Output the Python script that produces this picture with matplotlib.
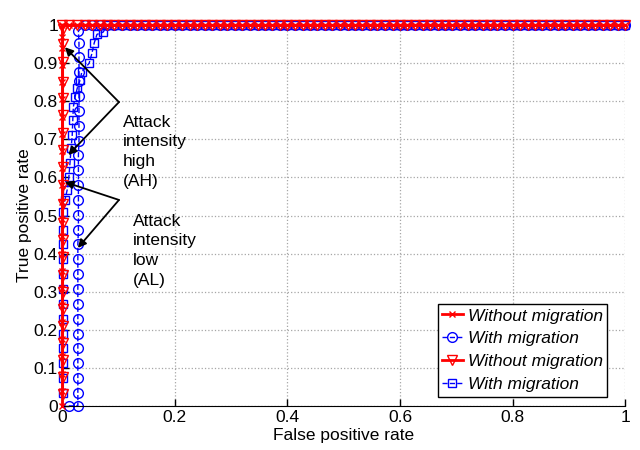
import matplotlib.pyplot as plt

plt.rcParams['font.family'] = ['Liberation Sans', 'DejaVu Sans']
plt.rcParams['font.size'] = 12.5

# shared sampling along the top (TPR = 1) row
top_x = [0.0, 0.013, 0.027, 0.04, 0.053, 0.067, 0.08, 0.093, 0.107, 0.12,
         0.133, 0.147, 0.16, 0.173, 0.187, 0.2, 0.213, 0.227, 0.24, 0.253,
         0.267, 0.28, 0.293, 0.307, 0.32, 0.333, 0.347, 0.36, 0.373, 0.387,
         0.4, 0.413, 0.427, 0.44, 0.453, 0.467, 0.48, 0.493, 0.507, 0.52,
         0.533, 0.547, 0.56, 0.573, 0.587, 0.6, 0.613, 0.627, 0.64, 0.653,
         0.667, 0.68, 0.693, 0.707, 0.72, 0.733, 0.747, 0.76, 0.773, 0.787,
         0.8, 0.813, 0.827, 0.84, 0.853, 0.867, 0.88, 0.893, 0.907, 0.92,
         0.933, 0.947, 0.96, 0.973, 0.987, 1.0]

# without migration, attack intensity high (red x)
ah_wo_y = [0.0, 0.04, 0.085, 0.13, 0.175, 0.22, 0.265, 0.31, 0.355, 0.4,
           0.445, 0.49, 0.535, 0.58, 0.625, 0.67, 0.715, 0.76, 0.805, 0.85,
           0.895, 0.94, 0.97]
ah_wo_x = [0.0] * len(ah_wo_y)

# without migration, attack intensity low (red triangles)
al_wo_y = [0.03, 0.075, 0.12, 0.165, 0.21, 0.255, 0.3, 0.345, 0.39, 0.435,
           0.48, 0.53, 0.58, 0.627, 0.672, 0.717, 0.764, 0.808, 0.85, 0.903,
           0.95, 0.99]
al_wo_x = [0.001] * len(al_wo_y)

# with migration, attack intensity low (blue circles)
al_w_x = [0.012, 0.028, 0.028, 0.028, 0.028, 0.028, 0.028, 0.028, 0.028,
          0.028, 0.028, 0.028, 0.028, 0.029, 0.029, 0.029, 0.029, 0.029,
          0.029, 0.03, 0.03, 0.03, 0.03, 0.03, 0.03, 0.03, 0.03, 0.029]
al_w_y = [0.0, 0.0, 0.034, 0.073, 0.112, 0.151, 0.19, 0.229, 0.268, 0.307,
          0.346, 0.385, 0.424, 0.463, 0.502, 0.541, 0.58, 0.619, 0.658,
          0.697, 0.736, 0.775, 0.814, 0.853, 0.877, 0.916, 0.953, 0.985]

# with migration, attack intensity high (blue squares)
ah_w_x = [0.002, 0.002, 0.002, 0.002, 0.002, 0.002, 0.002, 0.002, 0.002,
          0.002, 0.002, 0.002, 0.002, 0.005, 0.009, 0.012, 0.014, 0.016,
          0.018, 0.019, 0.02, 0.023, 0.027, 0.032, 0.035, 0.048, 0.053,
          0.057, 0.062, 0.073]
ah_w_y = [0.034, 0.073, 0.112, 0.151, 0.19, 0.229, 0.268, 0.307, 0.346,
          0.385, 0.424, 0.463, 0.51, 0.541, 0.567, 0.6, 0.638, 0.677, 0.711,
          0.75, 0.785, 0.811, 0.835, 0.856, 0.877, 0.9, 0.926, 0.953, 0.976,
          0.982]

labels = ['Without migration', 'With migration',
          'Without migration', 'With migration']

fig = plt.figure(figsize=(6.4, 4.5), dpi=100)
ax = fig.add_axes([0.097, 0.098, 0.88, 0.846])

ax.plot(ah_wo_x + top_x, ah_wo_y + [1.0] * len(top_x), color='red', lw=2,
        marker='x', ms=5, mew=1, label=labels[0], clip_on=False, zorder=3)
ax.plot(al_w_x + top_x[3:], al_w_y + [1.0] * len(top_x[3:]), color='blue',
        lw=1, ls='--', marker='o', ms=7, mfc='none', mew=1,
        label=labels[1], clip_on=False, zorder=2)
ax.plot(al_wo_x + top_x, al_wo_y + [1.0] * len(top_x), color='red', lw=2,
        marker='v', ms=7, mfc='none', mew=1, label=labels[2],
        clip_on=False, zorder=3)
ax.plot(ah_w_x + top_x[6:], ah_w_y + [1.0] * len(top_x[6:]), color='blue',
        lw=1, ls='--', marker='s', ms=6, mfc='none', mew=1,
        label=labels[3], clip_on=False, zorder=2)

ax.set_xlim(0, 1)
ax.set_ylim(0, 1)
ax.set_xticks([0, 0.2, 0.4, 0.6, 0.8, 1])
ax.set_xticklabels(['0', '0.2', '0.4', '0.6', '0.8', '1'])
ax.set_yticks([i / 10 for i in range(11)])
ax.set_yticklabels(['0', '0.1', '0.2', '0.3', '0.4', '0.5', '0.6', '0.7',
                    '0.8', '0.9', '1'])
ax.tick_params(direction='in', length=5, width=1, pad=3)
ax.spines['top'].set_visible(False)
ax.spines['right'].set_visible(False)
ax.grid(True, ls=':', color='0.65', lw=0.9)
ax.set_axisbelow(True)
ax.set_xlabel('False positive rate', labelpad=2)
ax.set_ylabel('True positive rate', labelpad=1)

arrow = dict(arrowstyle='-|>', color='black', lw=1.3, shrinkA=0, shrinkB=0,
             mutation_scale=12)
ax.annotate('', xy=(0.005, 0.942), xytext=(0.101, 0.798), arrowprops=arrow)
ax.annotate('', xy=(0.011, 0.659), xytext=(0.101, 0.798), arrowprops=arrow)
ax.annotate('', xy=(0.005, 0.588), xytext=(0.101, 0.541), arrowprops=arrow)
ax.annotate('', xy=(0.028, 0.415), xytext=(0.101, 0.541), arrowprops=arrow)
ax.text(0.108, 0.765, 'Attack\nintensity\nhigh\n(AH)', ha='left', va='top',
        linespacing=1.4)
ax.text(0.126, 0.505, 'Attack\nintensity\nlow\n(AL)', ha='left', va='top',
        linespacing=1.4)

leg = ax.legend(loc='lower right', bbox_to_anchor=(0.968, 0.024),
                borderaxespad=0, fancybox=False, edgecolor='black',
                framealpha=1, handlelength=1.2, handletextpad=0.3,
                labelspacing=0.45, borderpad=0.25, prop={'style': 'italic'})
leg.get_frame().set_linewidth(1)

fig.savefig('out.png', dpi=100)
